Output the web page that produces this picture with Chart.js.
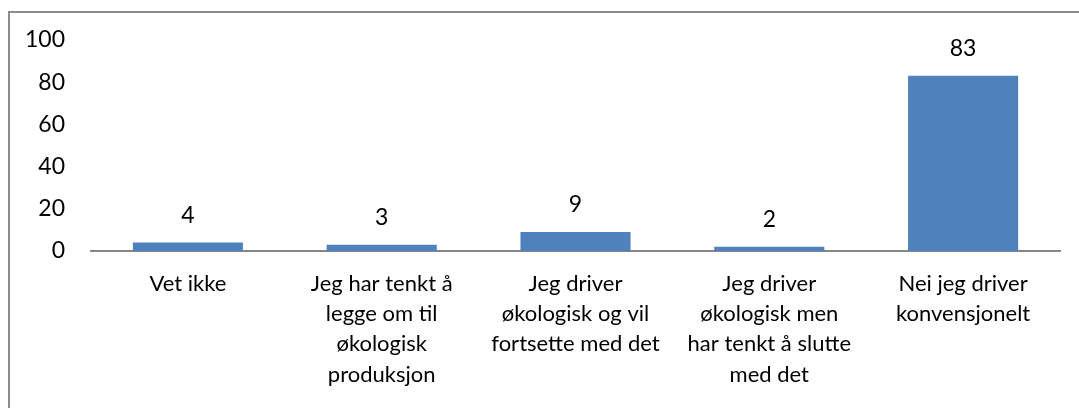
<!DOCTYPE html>
<html>
<head>
<meta charset="utf-8">
<script src="https://cdn.jsdelivr.net/npm/chart.js@4/dist/chart.umd.min.js"></script>
<style>
    html, body { margin: 0; padding: 0; background: #fff; overflow: hidden; }
    #frame {
        position: absolute; left: 8px; top: 11px;
        width: 1200px; height: 600px;
        border-left: 2px solid #8c8c8c; border-top: 2px solid #8c8c8c;
    }
    #wrap { position: absolute; left: 0; top: 0; width: 1079px; height: 408px; }
</style>
</head>
<body>
<div id="frame"></div>
<div id="wrap"><canvas id="myChart"></canvas></div>
<script>
const BLUE = '#4F81BD';
const AXIS_GREY = '#868686';
const FONT = { family: 'Lato, "Noto Sans", sans-serif', size: 22, lineHeight: 1.37 };

const categories = [
    'Vet ikke',
    ['Jeg har tenkt å', 'legge om til', 'økologisk', 'produksjon'],
    ['Jeg driver', 'økologisk og vil', 'fortsette med det'],
    ['Jeg driver', 'økologisk men', 'har tenkt å slutte', 'med det'],
    ['Nei jeg driver', 'konvensjonelt']
];
const values = [4, 3, 9, 2, 83];
const yTicks = [0, 20, 40, 60, 80, 100];

// writes each bar's value above it
const valueLabels = {
    id: 'valueLabels',
    afterDatasetsDraw(chart) {
        const ctx = chart.ctx;
        const meta = chart.getDatasetMeta(0);
        ctx.save();
        ctx.font = `23px ${FONT.family}`;
        ctx.fillStyle = '#000';
        ctx.textAlign = 'center';
        ctx.textBaseline = 'middle';
        meta.data.forEach((bar, i) => {
            ctx.fillText(String(values[i]), bar.x, bar.y - 27);
        });
        ctx.restore();
    }
};

var ctx = document.getElementById('myChart').getContext('2d');

var chart = new Chart(ctx, {
    type: 'bar',
    data: {
        labels: categories,
        datasets: [{
            data: values,
            backgroundColor: BLUE,
            borderWidth: 0,
            barPercentage: 0.568,
            categoryPercentage: 1
        }]
    },
    options: {
        animation: false,
        responsive: true,
        maintainAspectRatio: false,
        layout: {
            padding: { left: 0, top: 40, right: 19, bottom: 0 }
        },
        plugins: {
            legend: { display: false },
            tooltip: { enabled: false }
        },
        scales: {
            x: {
                grid: { display: false, drawTicks: false },
                border: { display: true, color: AXIS_GREY, width: 2 },
                ticks: {
                    color: '#000',
                    font: FONT,
                    padding: 18,
                    autoSkip: false,
                    maxRotation: 0,
                    minRotation: 0
                },
                afterFit(scale) { scale.height = 157; }
            },
            y: {
                min: 0,
                max: 100,
                grid: { display: false, drawTicks: false },
                border: { display: false },
                afterBuildTicks(scale) {
                    scale.ticks = yTicks.map(v => ({ value: v }));
                },
                ticks: {
                    color: '#000',
                    font: { family: FONT.family, size: 23 },
                    padding: 26
                },
                afterFit(scale) { scale.width = 91; }
            }
        }
    },
    plugins: [valueLabels]
});
</script>
</body>
</html>
